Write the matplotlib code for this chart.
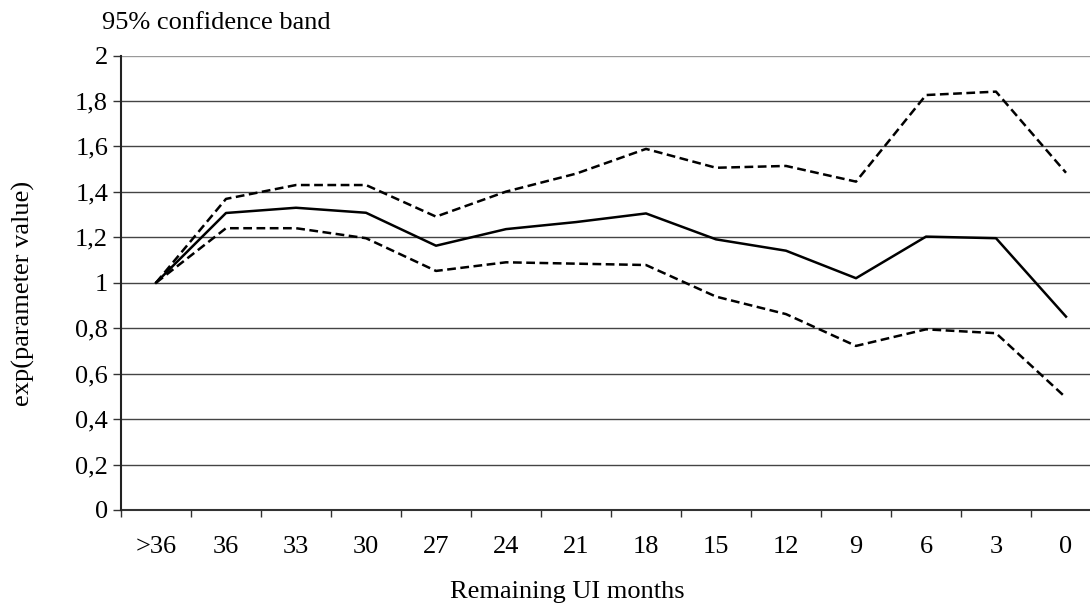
import numpy as np
import matplotlib.pyplot as plt

plt.rcParams['font.family'] = ['Liberation Serif', 'DejaVu Serif']

# Remaining UI months (categories) and estimated parameters
months = ['>36', '36', '33', '30', '27', '24', '21', '18', '15', '12', '9', '6', '3', '0']
estimate = [1.00, 1.307, 1.330, 1.308, 1.163, 1.236, 1.267, 1.305, 1.191, 1.141, 1.020, 1.203, 1.196, 0.851]
upper = [1.00, 1.369, 1.430, 1.430, 1.291, 1.401, 1.480, 1.589, 1.506, 1.514, 1.445, 1.826, 1.841, 1.484]
lower = [1.00, 1.240, 1.240, 1.196, 1.052, 1.090, 1.084, 1.078, 0.939, 0.862, 0.722, 0.795, 0.778, 0.494]

y_ticks = [0, 0.2, 0.4, 0.6, 0.8, 1.0, 1.2, 1.4, 1.6, 1.8, 2.0]
y_tick_labels = ['0', '0,2', '0,4', '0,6', '0,8', '1', '1,2', '1,4', '1,6', '1,8', '2']

W, H = 1090, 605
fig = plt.figure(figsize=(W / 100, H / 100), dpi=100)
# plot area runs past the right edge of the picture, as in the original
left, right, top, bottom = 121, 1101, 55.5, 510
ax = fig.add_axes([left / W, 1 - bottom / H, (right - left) / W, (bottom - top) / H])

x = np.arange(len(months))

# horizontal gridlines
for v in y_ticks[1:-1]:
    ax.axhline(v, color='#444444', lw=1.0, zorder=1)
ax.axhline(2.0, color='#999999', lw=1.7, zorder=1)

ax.plot(x, upper, color='black', lw=1.8, ls=(0, (3.5, 1.8)), zorder=3)
ax.plot(x, lower, color='black', lw=1.8, ls=(0, (3.5, 1.8)), zorder=3)
ax.plot(x, estimate, color='black', lw=1.8, zorder=4)

ax.set_xlim(-0.5, len(months) - 0.5)
ax.set_ylim(0, 2)

ax.set_xticks(x)
ax.set_xticklabels(months, fontsize=19)
ax.set_xticks(np.arange(-0.5, len(months)), minor=True)
ax.tick_params(axis='x', which='major', length=0, pad=19)
ax.tick_params(axis='x', which='minor', length=5, width=1.0, color='#333333', direction='out')

ax.set_yticks(y_ticks)
ax.set_yticklabels(y_tick_labels, fontsize=19)
ax.tick_params(axis='y', length=5.8, width=1.0, color='#333333', pad=3.5)

for s in ['top', 'right']:
    ax.spines[s].set_visible(False)
ax.spines['left'].set_linewidth(1.5)
ax.spines['left'].set_color('#222222')
ax.spines['bottom'].set_linewidth(1.5)
ax.spines['bottom'].set_color('#333333')
ax.spines['left'].set_zorder(5)

fig.text(102 / W, 1 - 23 / H, '95% confidence band', fontsize=19, va='center', ha='left')
fig.text(567 / W, 1 - 603 / H, 'Remaining UI months', fontsize=19, va='bottom', ha='center')
fig.text(23 / W, 1 - 293 / H, 'exp(parameter value)', fontsize=19, va='center', ha='center',
         rotation=90)

fig.savefig('out.png', dpi=100)
